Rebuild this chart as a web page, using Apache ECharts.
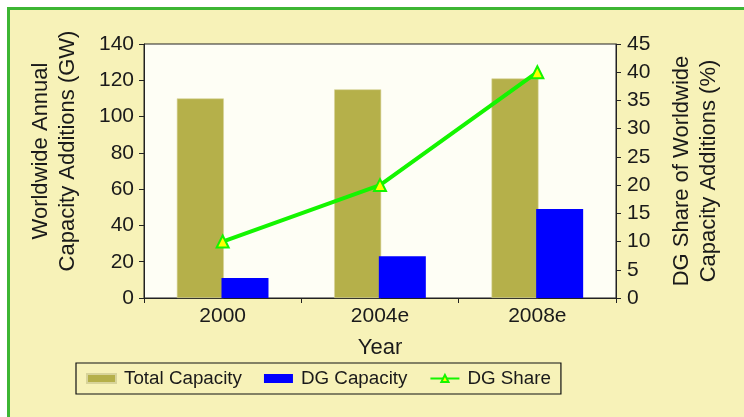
<!DOCTYPE html>
<html>
<head>
<meta charset="utf-8">
<script src="https://cdn.jsdelivr.net/npm/echarts@6/dist/echarts.min.js"></script>
<style>
html,body{margin:0;padding:0;background:#ffffff;}
#chart{width:744px;height:417px;}
</style>
</head>
<body>
<div id="chart"></div>
<script>
const categories = ['2000', '2004e', '2008e'];
const totalCapacity = [110, 115, 121];
const dgCapacity = [11, 23, 49];
const dgShare = [10, 20, 40];
const leftTicks = { min: 0, max: 140, interval: 20 };
const rightTicks = { min: 0, max: 45, interval: 5 };

const FONT = '"Liberation Sans", Arial, Helvetica, sans-serif';
const TXT = '#1a1a1a';

const chart = echarts.init(document.getElementById('chart'), null, { renderer: 'canvas' });
chart.setOption({
  backgroundColor: '#ffffff',
  animation: false,
  textStyle: { fontFamily: FONT, color: TXT },
  graphic: [{
    type: 'rect', z: -10, silent: true,
    shape: { x: 8.5, y: 8.5, width: 800, height: 500 },
    style: { fill: '#f7f2b8', stroke: '#3db634', lineWidth: 3 }
  }],
  grid: {
    left: 144, right: 128, top: 44, bottom: 119,
    show: true, backgroundColor: '#fefef5', borderColor: '#222', borderWidth: 1
  },
  legend: {
    left: 76, top: 363,
    padding: [6, 10, 6, 10],
    borderColor: '#111', borderWidth: 1.2,
    itemWidth: 29, itemHeight: 9, itemGap: 22,
    textStyle: { fontSize: 18.8, color: TXT, fontFamily: FONT, padding: [0, 0, 0, 3] },
    data: [
      { name: 'Total Capacity', icon: 'rect' },
      { name: 'DG Capacity', icon: 'rect' },
      { name: 'DG Share' }
    ]
  },
  xAxis: {
    type: 'category', data: categories,
    name: 'Year', nameLocation: 'middle', nameGap: 39,
    nameTextStyle: { fontSize: 22, color: TXT, fontFamily: FONT },
    axisLine: { lineStyle: { color: '#222', width: 1 } },
    axisTick: { show: true, length: 5, lineStyle: { color: '#222' } },
    axisLabel: { fontSize: 21, color: TXT, margin: 8, fontFamily: FONT },
    splitLine: { show: false }
  },
  yAxis: [{
    type: 'value', position: 'left',
    min: leftTicks.min, max: leftTicks.max, interval: leftTicks.interval,
    name: 'Worldwide Annual\nCapacity Additions (GW)',
    nameLocation: 'middle', nameRotate: 90, nameGap: 63,
    nameTextStyle: { fontSize: 22, lineHeight: 27, color: TXT, fontFamily: FONT, padding: [0, 0, 0, 40] },
    axisLine: { show: true, lineStyle: { color: '#222', width: 1 } },
    axisTick: { show: true, length: 5, lineStyle: { color: '#222' } },
    axisLabel: { fontSize: 21, color: TXT, margin: 10, fontFamily: FONT },
    splitLine: { show: false }
  }, {
    type: 'value', position: 'right',
    min: rightTicks.min, max: rightTicks.max, interval: rightTicks.interval,
    name: 'DG Share of Worldwide\nCapacity Additions (%)',
    nameLocation: 'middle', nameRotate: 90, nameGap: 52,
    nameTextStyle: { fontSize: 22, lineHeight: 27, color: TXT, fontFamily: FONT },
    axisLine: { show: true, lineStyle: { color: '#222', width: 1 } },
    axisTick: { show: true, length: 5, lineStyle: { color: '#222' } },
    axisLabel: { fontSize: 21, color: TXT, margin: 11, fontFamily: FONT },
    splitLine: { show: false }
  }],
  series: [{
    name: 'Total Capacity', type: 'bar', yAxisIndex: 0,
    data: totalCapacity, barWidth: 47, barGap: '-5%',
    itemStyle: { color: '#b5b04a', borderColor: '#d8d49a', borderWidth: 0.6 }
  }, {
    name: 'DG Capacity', type: 'bar', yAxisIndex: 0,
    data: dgCapacity, barWidth: 47,
    itemStyle: { color: '#0000ff' }
  }, {
    name: 'DG Share', type: 'line', yAxisIndex: 1,
    data: dgShare,
    symbol: 'triangle', symbolSize: 12,
    lineStyle: { color: '#14f500', width: 4 },
    itemStyle: { color: '#ffff00', borderColor: '#14f500', borderWidth: 2 },
    z: 5
  }]
});
</script>
</body>
</html>
